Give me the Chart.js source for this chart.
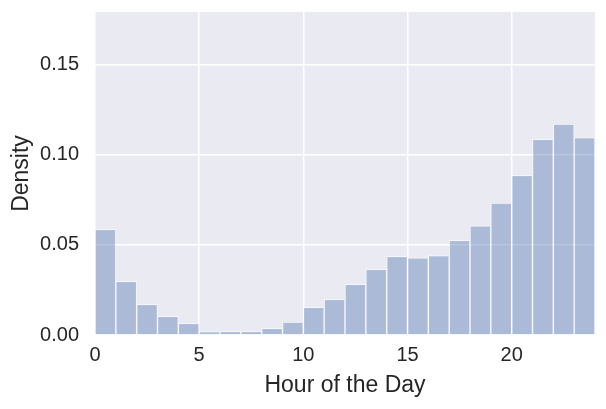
<!DOCTYPE html>
<html lang="en">
<head>
    <meta charset="UTF-8">
    <script src="https://cdn.jsdelivr.net/npm/chart.js@4.4.0/dist/chart.umd.min.js"></script>
    <title>Hour of the Day</title>
    <style>
        body { margin: 0; background: #fff; }
        #wrap { width: 606px; height: 409px; }
    </style>
</head>
<body>
    <div id="wrap"><canvas id="chart" width="606" height="409"></canvas></div>
    <script>
        // histogram bins: one per hour, left edges 0..23
        const binStarts = [0, 1, 2, 3, 4, 5, 6, 7, 8, 9, 10, 11, 12, 13, 14, 15, 16, 17, 18, 19, 20, 21, 22, 23];
        const density = [0.0587, 0.0298, 0.0170, 0.0104, 0.0065, 0.0019, 0.0020, 0.0020, 0.0037, 0.0072,
                         0.0154, 0.0198, 0.0282, 0.0365, 0.0437, 0.0428, 0.0441, 0.0526, 0.0607, 0.0733,
                         0.0887, 0.1087, 0.1172, 0.1096];
        const xTicks = [0, 5, 10, 15, 20];
        const yTicks = [0, 0.05, 0.10, 0.15];

        const font = "'Liberation Sans', Arial, sans-serif";

        const bgPlugin = {
            id: 'bg',
            beforeDraw(chart) {
                const { ctx, chartArea: a } = chart;
                ctx.save();
                ctx.fillStyle = '#EAEAF2';
                ctx.fillRect(a.left, a.top, a.right - a.left, a.bottom - a.top);
                ctx.restore();
            }
        };

        const ctx = document.getElementById('chart').getContext('2d');
        const chart = new Chart(ctx, {
            type: 'bar',
            data: {
                datasets: [{
                    label: 'Density',
                    data: binStarts.map((b, i) => ({ x: b + 0.5, y: density[i] })),
                    backgroundColor: 'rgba(76, 114, 176, 0.4)',
                    borderColor: 'rgba(255, 255, 255, 0.55)',
                    borderWidth: 1,
                    barPercentage: 1,
                    categoryPercentage: 1
                }]
            },
            options: {
                responsive: false,
                animation: false,
                layout: { padding: { left: 0, right: 11, top: 12, bottom: 0 } },
                plugins: { legend: { display: false }, tooltip: { enabled: false } },
                scales: {
                    x: {
                        type: 'linear',
                        min: 0,
                        max: 24,
                        offset: false,
                        afterBuildTicks: s => { s.ticks = xTicks.map(v => ({ value: v })); },
                        afterFit: s => { s.height = 74; s.paddingLeft = 0; s.paddingRight = 0; },
                        grid: { color: '#ffffff', lineWidth: 1.5, drawTicks: false, offset: false },
                        border: { display: false },
                        ticks: { color: '#262626', font: { family: font, size: 20 }, padding: 8, maxRotation: 0 },
                        title: { display: true, text: 'Hour of the Day', color: '#262626',
                                 font: { family: font, size: 23 }, padding: { top: 0, bottom: 10 } }
                    },
                    y: {
                        min: 0,
                        max: 0.1794,
                        afterBuildTicks: s => { s.ticks = yTicks.map(v => ({ value: v })); },
                        afterFit: s => { s.width = 95; s.paddingTop = 0; s.paddingBottom = 0; },
                        grid: { color: '#ffffff', lineWidth: 1.5, drawTicks: false },
                        border: { display: false },
                        ticks: { color: '#262626', font: { family: font, size: 20 }, padding: 16,
                                 callback: v => v.toFixed(2) },
                        title: { display: true, text: 'Density', color: '#262626',
                                 font: { family: font, size: 23 }, padding: { top: 8, bottom: 6 } }
                    }
                }
            },
            plugins: [bgPlugin]
        });
    </script>
</body>
</html>
